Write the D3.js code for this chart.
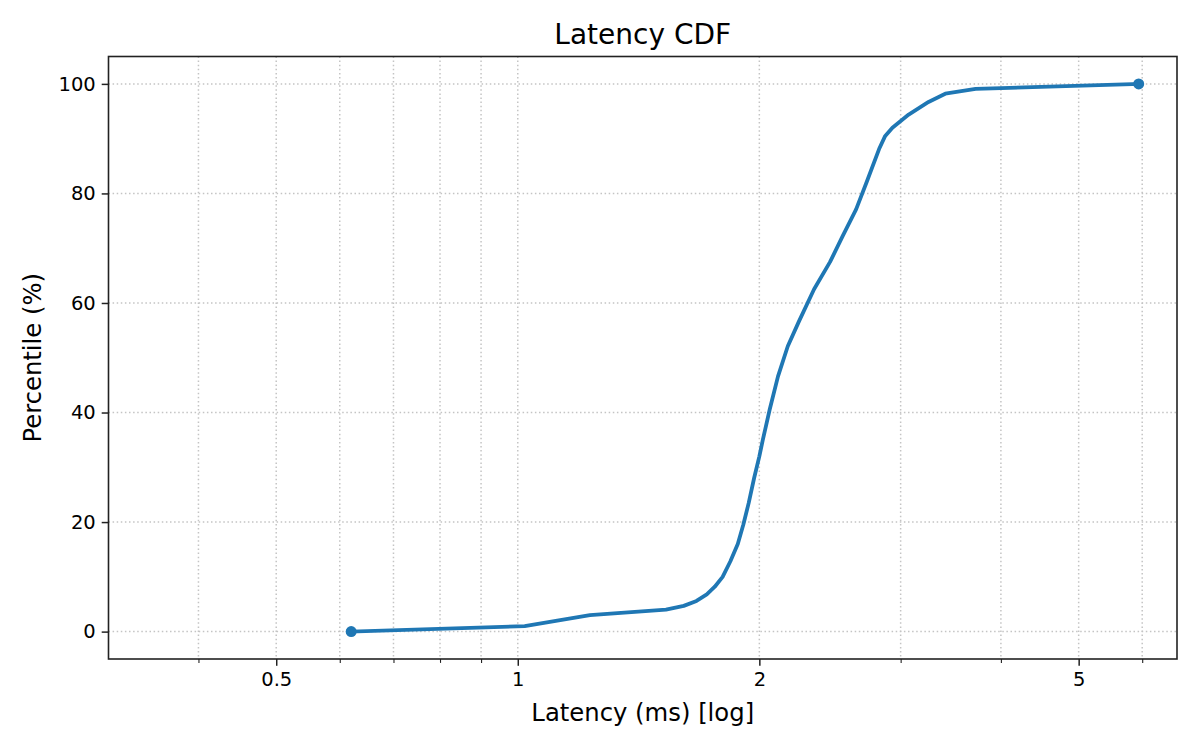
<!DOCTYPE html>
<html>
<head>
<meta charset="utf-8">
<script src="https://cdn.jsdelivr.net/npm/d3@7"></script>
<style>
  html, body { margin: 0; padding: 0; background: #fff; }
  svg { display: block; font-family: "DejaVu Sans", sans-serif; }
</style>
</head>
<body>
<svg id="chart" width="1200" height="750"></svg>
<script>
// latency (ms) at each percentile
var latencyMs = [0.62, 1.02, 1.12, 1.23, 1.53, 1.61, 1.67, 1.72, 1.76, 1.80, 1.84, 1.88, 1.91, 1.94, 1.97, 2.00, 2.02, 2.06, 2.11, 2.17, 2.24, 2.34, 2.45, 2.54, 2.64, 2.72, 2.82, 2.87, 2.93, 3.07, 3.25, 3.41, 3.72, 5.94];
var percentile = [0, 1, 2, 3, 4, 4.7, 5.6, 6.8, 8.2, 10, 12.8, 16, 19.5, 23.5, 28, 32, 35, 40.5, 46.6, 52.1, 56.6, 62.5, 67.5, 72.2, 77.1, 82, 88.1, 90.5, 92, 94.4, 96.7, 98.2, 99.1, 100];

var xMajorTicks = [0.5, 1, 2, 5];
var xTickLabels = ["0.5", "1", "2", "5"];
var xMinorTicks = [0.4, 0.6, 0.7, 0.8, 0.9, 3, 4, 6];
var yTicks = [0, 20, 40, 60, 80, 100];

var plotL = 108.5, plotR = 1177, plotT = 56.5, plotB = 659;
var blue = "#1f77b4";

var svg = d3.select("#chart");

var x = d3.scaleLog().domain([0.309, 6.63]).range([plotL, plotR]);
var y = d3.scaleLinear().domain([-5, 105]).range([plotB, plotT]);

// grid (both major and minor x, dotted)
var grid = svg.append("g").attr("id", "grid");
var gridStyle = function(sel){
    sel.attr("stroke", "#c4c4c4").attr("stroke-width", 1.5).attr("stroke-dasharray", "1.5 2.6");
}
grid.selectAll(".gx").data(xMajorTicks.concat(xMinorTicks)).enter().append("line")
    .attr("x1", d => x(d)).attr("x2", d => x(d)).attr("y1", plotT).attr("y2", plotB).call(gridStyle);
grid.selectAll(".gy").data(yTicks).enter().append("line")
    .attr("x1", plotL).attr("x2", plotR).attr("y1", d => y(d)).attr("y2", d => y(d)).call(gridStyle);

// axes
var xAxis = d3.axisBottom(x).tickValues(xMajorTicks).tickFormat((d, i) => xTickLabels[i]).tickSize(6.8).tickPadding(6);
var xMinor = d3.axisBottom(x).tickValues(xMinorTicks).tickFormat("").tickSize(3.9);
var yAxis = d3.axisLeft(y).tickValues(yTicks).tickSize(6.8).tickPadding(6);

var styleAxis = function(g, w){
    g.select(".domain").remove();
    g.selectAll(".tick line").attr("stroke", "#222").attr("stroke-width", w);
    g.selectAll(".tick text").attr("fill", "#000").style("font-size", "19.5px").style("font-family", "DejaVu Sans");
}

svg.append("g").attr("transform", "translate(0," + plotB + ")").call(xAxis).call(g => styleAxis(g, 1.5));
svg.append("g").attr("transform", "translate(0," + plotB + ")").call(xMinor).call(g => styleAxis(g, 1.1));
svg.append("g").attr("transform", "translate(" + plotL + ",0)").call(yAxis).call(g => styleAxis(g, 1.5));

// line + end markers
var pts = latencyMs.map((v, i) => [v, percentile[i]]);
var line = d3.line().x(d => x(d[0])).y(d => y(d[1]));
svg.append("path").datum(pts).attr("d", line)
    .attr("fill", "none").attr("stroke", blue).attr("stroke-width", 3.8)
    .attr("stroke-linejoin", "round").attr("stroke-linecap", "square");
svg.selectAll(".endpt").data([pts[0], pts[pts.length - 1]]).enter().append("circle")
    .attr("cx", d => x(d[0])).attr("cy", d => y(d[1])).attr("r", 5.5).attr("fill", blue);

// frame
svg.append("rect").attr("x", plotL).attr("y", plotT).attr("width", plotR - plotL).attr("height", plotB - plotT)
    .attr("fill", "none").attr("stroke", "#222").attr("stroke-width", 1.6);

// titles
svg.append("text").attr("x", (plotL + plotR) / 2).attr("y", 44).attr("text-anchor", "middle")
    .style("font-size", "28px").text("Latency CDF");
svg.append("text").attr("x", (plotL + plotR) / 2).attr("y", 721).attr("text-anchor", "middle")
    .style("font-size", "24.3px").text("Latency (ms) [log]");
svg.append("text").attr("transform", "translate(41," + (plotT + plotB) / 2 + ") rotate(-90)").attr("text-anchor", "middle")
    .style("font-size", "24.3px").text("Percentile (%)");
</script>
</body>
</html>
